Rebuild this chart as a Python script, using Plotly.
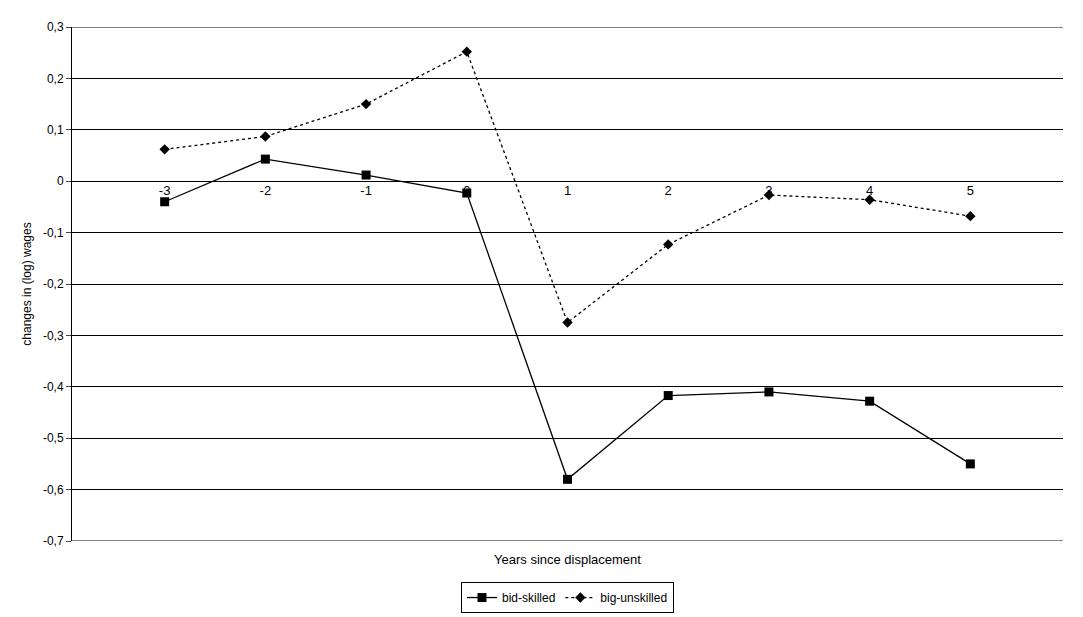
import plotly.graph_objects as go

years = [-3, -2, -1, 0, 1, 2, 3, 4, 5]
year_labels = ["-3", "-2", "-1", "0", "1", "2", "3", "4", "5"]
skilled = [-0.04, 0.043, 0.012, -0.023, -0.58, -0.417, -0.41, -0.428, -0.55]
unskilled = [0.062, 0.087, 0.15, 0.252, -0.275, -0.123, -0.027, -0.036, -0.068]
y_ticks = [-0.7, -0.6, -0.5, -0.4, -0.3, -0.2, -0.1, 0, 0.1, 0.2, 0.3]
y_labels = ["-0,7", "-0,6", "-0,5", "-0,4", "-0,3", "-0,2", "-0,1", "0", "0,1", "0,2", "0,3"]

fig = go.Figure()
fig.add_trace(go.Scatter(x=years, y=skilled, mode="lines+markers", name="bid-skilled",
                         line=dict(color="black", width=1.3),
                         marker=dict(symbol="square", size=9, color="black")))
fig.add_trace(go.Scatter(x=years, y=unskilled, mode="lines+markers", name="big-unskilled",
                         line=dict(color="black", width=1.3, dash="dot"),
                         marker=dict(symbol="diamond", size=8, color="black")))

# top and bottom grid lines (plotly skips grid at range edges)
for yv in (y_ticks[0], y_ticks[-1]):
    fig.add_shape(type="line", xref="paper", yref="y", x0=0, x1=1, y0=yv, y1=yv,
                  line=dict(color="black", width=1))

fig.update_layout(
    width=1083, height=617, plot_bgcolor="white", paper_bgcolor="white",
    margin=dict(l=64, r=28, t=16, b=73),
    font=dict(family="Liberation Sans, Arial", size=12, color="black"),
    showlegend=True,
    legend=dict(orientation="h", x=0.5, xanchor="center", y=-0.11, yanchor="middle",
                bordercolor="black", borderwidth=1, font=dict(size=12)),
    xaxis=dict(range=[-3.92, 5.92], tickvals=years, ticktext=year_labels, showgrid=False,
               zeroline=False, anchor="free", position=0.7, showline=False, ticks="",
               tickfont=dict(size=13)),
    yaxis=dict(range=[-0.7, 0.3], tickvals=y_ticks, ticktext=y_labels, showgrid=True,
               gridcolor="black", gridwidth=1, zeroline=False, showline=True,
               linecolor="black", ticks="outside", ticklen=5,
               title=dict(text="changes in (log) wages", font=dict(size=12), standoff=8)),
    annotations=[dict(text="Years since displacement", xref="paper", yref="paper",
                      x=0.5, y=-0.055, showarrow=False, font=dict(size=13))],
)
fig.write_html("out.html")
